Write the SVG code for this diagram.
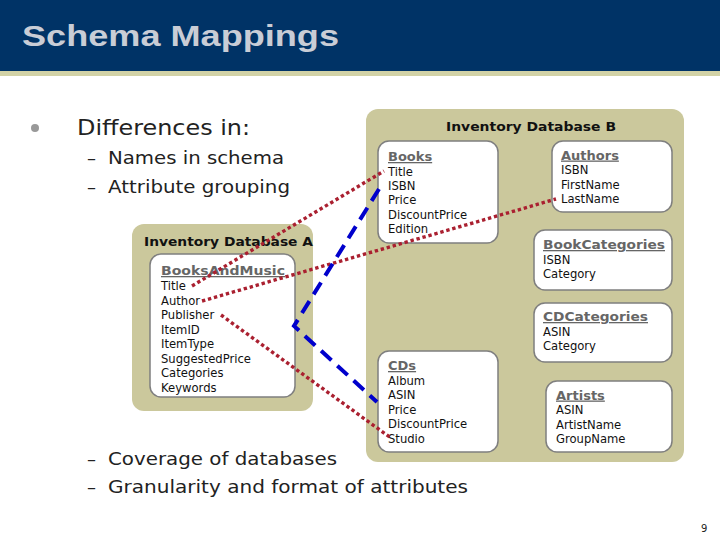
<svg xmlns="http://www.w3.org/2000/svg" width="720" height="540" viewBox="0 0 720 540">
<style>
.hdr{font-family:"Liberation Sans",Arial,sans-serif;font-weight:bold;font-size:30px;fill:#c9cdd6}
.b1{font-family:"DejaVu Sans",Verdana,sans-serif;font-size:21px;fill:#222}
.b2{font-family:"DejaVu Sans",Verdana,sans-serif;font-size:18px;fill:#222}
.db{fill:#cbc89c}
.dbt{font-family:"DejaVu Sans",Verdana,sans-serif;font-weight:bold;font-size:12.5px;fill:#111}
.tbl{fill:#fff;stroke:#7f7f7f;stroke-width:1.5}
.tn{font-family:"DejaVu Sans",Verdana,sans-serif;font-weight:bold;font-size:13px;fill:#666;text-decoration:underline}
.it{font-family:"DejaVu Sans",Verdana,sans-serif;font-size:11.6px;fill:#111}
.red{fill:none;stroke:#aa2030;stroke-width:3.4;stroke-dasharray:3.4 2.8}
.blue{fill:none;stroke:#0000cc;stroke-width:4;stroke-dasharray:14 8}
</style>
<rect x="0" y="0" width="720" height="71" fill="#003366"/>
<rect x="0" y="71" width="720" height="5" fill="#d2d2a6"/>
<text class="hdr" x="22" y="46" textLength="317" lengthAdjust="spacingAndGlyphs">Schema Mappings</text>
<circle cx="35" cy="128" r="4" fill="#999"/>
<text class="b1" x="77" y="135" textLength="173" lengthAdjust="spacingAndGlyphs">Differences in:</text>
<text class="b2" x="87" y="164">–</text>
<text class="b2" x="108" y="164" textLength="176" lengthAdjust="spacingAndGlyphs">Names in schema</text>
<text class="b2" x="87" y="193">–</text>
<text class="b2" x="108" y="193" textLength="182" lengthAdjust="spacingAndGlyphs">Attribute grouping</text>
<text class="b2" x="87" y="465">–</text>
<text class="b2" x="108" y="465" textLength="229" lengthAdjust="spacingAndGlyphs">Coverage of databases</text>
<text class="b2" x="87" y="493">–</text>
<text class="b2" x="108" y="493" textLength="360" lengthAdjust="spacingAndGlyphs">Granularity and format of attributes</text>
<text x="701" y="532" font-family="DejaVu Sans, sans-serif" font-size="10" fill="#222">9</text>

<g id="dbA">
<rect class="db" x="132" y="224" width="181" height="187" rx="12"/>
<text class="dbt" x="144" y="246" textLength="169" lengthAdjust="spacingAndGlyphs">Inventory Database A</text>
</g>
<g id="booksandmusic">
<rect class="tbl" x="150" y="254" width="145" height="143" rx="11"/>
<text class="tn" x="161" y="275" textLength="124" lengthAdjust="spacingAndGlyphs">BooksAndMusic</text>
<text class="it" x="161" y="290">Title</text>
<text class="it" x="161" y="304.5">Author</text>
<text class="it" x="161" y="319">Publisher</text>
<text class="it" x="161" y="333.5">ItemID</text>
<text class="it" x="161" y="348">ItemType</text>
<text class="it" x="161" y="362.5">SuggestedPrice</text>
<text class="it" x="161" y="377">Categories</text>
<text class="it" x="161" y="391.5">Keywords</text>
</g>

<g id="dbB">
<rect class="db" x="366" y="109" width="318" height="353" rx="12"/>
<text class="dbt" x="446" y="131" textLength="170" lengthAdjust="spacingAndGlyphs">Inventory Database B</text>
</g>
<g id="books">
<rect class="tbl" x="378" y="141" width="120" height="102" rx="11"/>
<text class="tn" x="388" y="161">Books</text>
<text class="it" x="388" y="175.5">Title</text>
<text class="it" x="388" y="190">ISBN</text>
<text class="it" x="388" y="204">Price</text>
<text class="it" x="388" y="218.5">DiscountPrice</text>
<text class="it" x="388" y="233">Edition</text>
</g>
<g id="authors">
<rect class="tbl" x="552" y="141" width="120" height="71" rx="11"/>
<text class="tn" x="561" y="159.5">Authors</text>
<text class="it" x="561" y="174">ISBN</text>
<text class="it" x="561" y="188.5">FirstName</text>
<text class="it" x="561" y="203">LastName</text>
</g>
<g id="bookcategories">
<rect class="tbl" x="534" y="230" width="138" height="60" rx="11"/>
<text class="tn" x="543" y="249" textLength="122" lengthAdjust="spacingAndGlyphs">BookCategories</text>
<text class="it" x="543" y="263.5">ISBN</text>
<text class="it" x="543" y="278">Category</text>
</g>
<g id="cdcategories">
<rect class="tbl" x="534" y="303" width="138" height="59" rx="11"/>
<text class="tn" x="543" y="321" textLength="105" lengthAdjust="spacingAndGlyphs">CDCategories</text>
<text class="it" x="543" y="335.5">ASIN</text>
<text class="it" x="543" y="350">Category</text>
</g>
<g id="cds">
<rect class="tbl" x="378" y="351" width="120" height="101" rx="11"/>
<text class="tn" x="388" y="370">CDs</text>
<text class="it" x="388" y="385">Album</text>
<text class="it" x="388" y="399">ASIN</text>
<text class="it" x="388" y="413.5">Price</text>
<text class="it" x="388" y="428">DiscountPrice</text>
<text class="it" x="388" y="442.5">Studio</text>
</g>
<g id="artists">
<rect class="tbl" x="546" y="381" width="126" height="71" rx="11"/>
<text class="tn" x="556" y="399.5">Artists</text>
<text class="it" x="556" y="414">ASIN</text>
<text class="it" x="556" y="428.5">ArtistName</text>
<text class="it" x="556" y="443">GroupName</text>
</g>

<g id="connectors">
<path class="red" d="M192 286 L384 171"/>
<path class="red" d="M202 301 L556 199"/>
<path class="red" d="M221 315 L391 438"/>
<path class="blue" d="M379 189 L294 326 L377 402"/>
</g>
</svg>
